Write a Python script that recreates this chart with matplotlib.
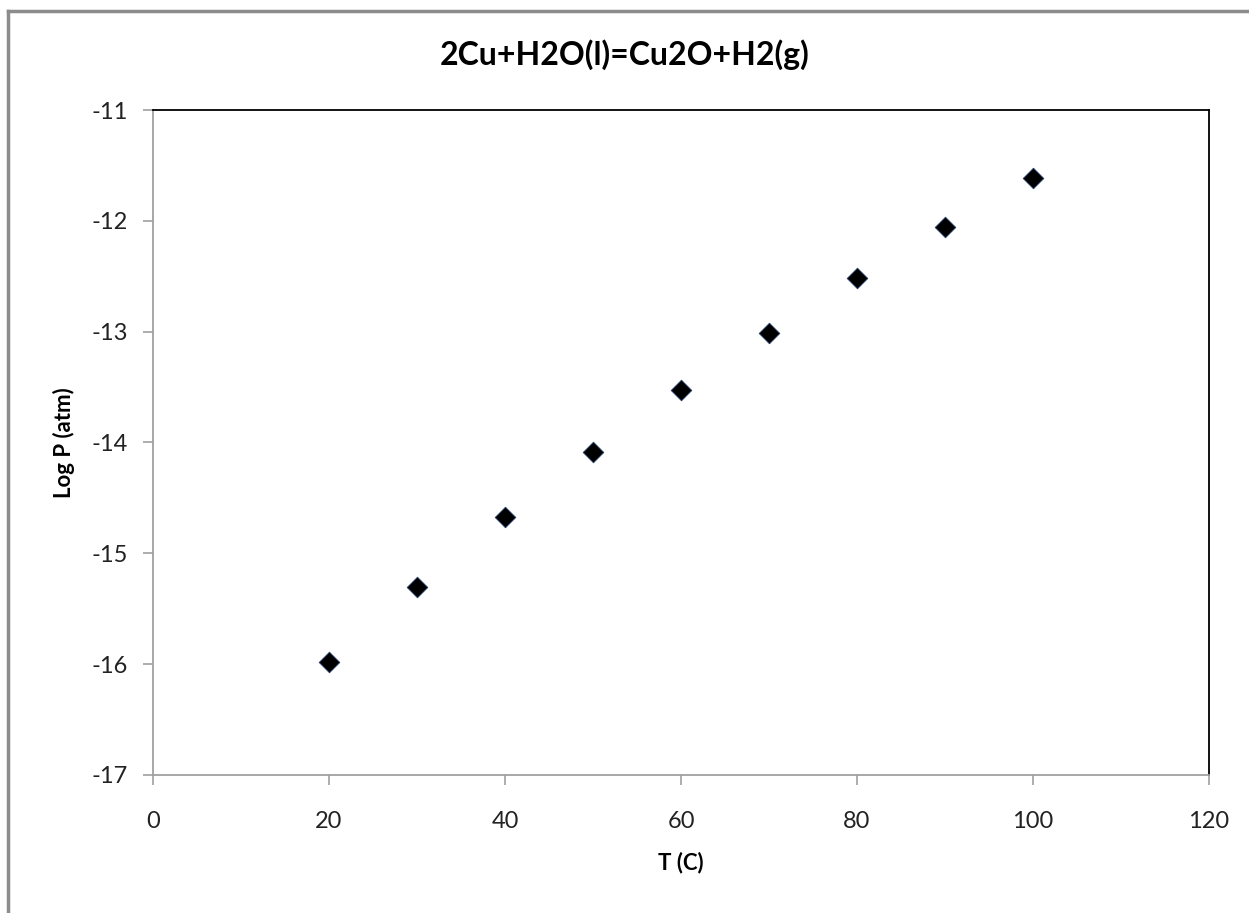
import matplotlib.pyplot as plt
from matplotlib.lines import Line2D

plt.rcParams['font.family'] = ['Lato', 'DejaVu Sans']
plt.rcParams['axes.unicode_minus'] = False

# Data
temp_c = [20, 30, 40, 50, 60, 70, 80, 90, 100]
log_p = [-15.98, -15.30, -14.67, -14.09, -13.53, -13.01, -12.52, -12.06, -11.61]
x_ticks = [0, 20, 40, 60, 80, 100, 120]
y_ticks = [-17, -16, -15, -14, -13, -12, -11]

fig = plt.figure(figsize=(12.49, 9.13), dpi=100)
ax = fig.add_axes([0.1225, 0.1512, 0.968 - 0.1225, 0.8795 - 0.1512])

ax.scatter(temp_c, log_p, marker='D', s=110, color='black',
           edgecolors='#1f3b66', linewidths=0.6, zorder=3)

ax.set_xlim(0, 120)
ax.set_ylim(-17, -11)
ax.set_xticks(x_ticks)
ax.set_yticks(y_ticks)
ax.tick_params(direction='out', length=7, width=1.2, color='#a0a0a0',
               labelsize=17, labelcolor='#222222')
ax.tick_params(axis='x', pad=19)
ax.tick_params(axis='y', pad=11)

ax.spines['left'].set_color('#a0a0a0')
ax.spines['bottom'].set_color('#a0a0a0')
ax.spines['top'].set_color('black')
ax.spines['right'].set_color('black')
for s in ax.spines.values():
    s.set_linewidth(1.3)

ax.set_xlabel('T (C)', fontsize=16, fontweight='bold', labelpad=14)
ax.set_ylabel('Log P (atm)', fontsize=16, fontweight='bold', labelpad=12)
fig.text(0.5, 0.94, '2Cu+H2O(l)=Cu2O+H2(g)', ha='center', va='center',
         fontsize=23, fontweight='bold')

# Outer chart frame (left and top visible)
fig.add_artist(Line2D([8 / 1249, 8 / 1249], [0, 1 - 11 / 913],
                      transform=fig.transFigure, color='#8c8c8c', lw=2.5))
fig.add_artist(Line2D([8 / 1249, 1], [1 - 11 / 913, 1 - 11 / 913],
                      transform=fig.transFigure, color='#8c8c8c', lw=2.5))

fig.savefig('out.png', dpi=100)
